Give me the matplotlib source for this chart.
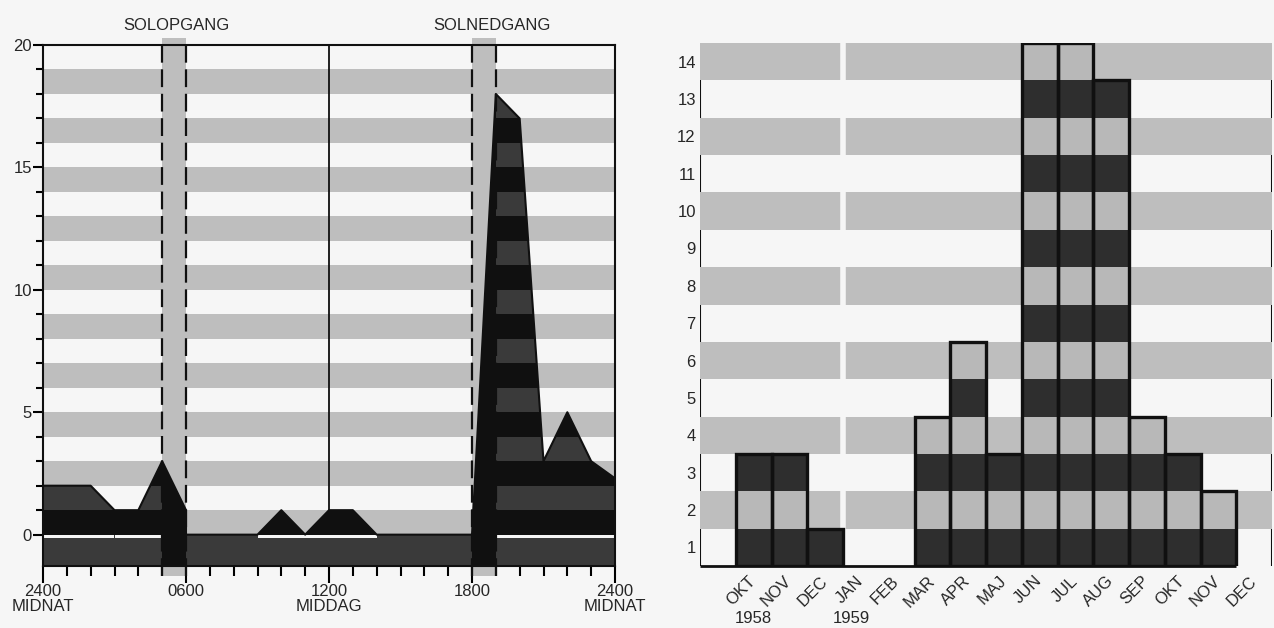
import numpy as np
import matplotlib.pyplot as plt
from matplotlib.patches import Rectangle, Polygon

plt.rcParams['font.family'] = ['Liberation Sans', 'DejaVu Sans']

# left chart: sightings per hour of the day
hours = [0, 1, 2, 3, 4, 5, 6, 6, 7, 8, 9, 10, 11, 12, 13, 14, 15, 16, 17, 18, 19, 20, 21, 22, 23, 24]
counts = [2, 2, 2, 1, 1, 3, 1, 0, 0, 0, 0, 1, 0, 1, 1, 0, 0, 0, 0, 0, 18, 17, 3, 5, 3, 2.3]
hour_ticks = [0, 6, 12, 18, 24]
hour_labels = ["2400\nMIDNAT", "0600", "1200\nMIDDAG", "1800", "2400\nMIDNAT"]
sun_bands = [(5, 6), (18, 19)]
sun_titles = ["SOLOPGANG", "SOLNEDGANG"]

# right chart: sightings per month
months = ["OKT", "NOV", "DEC", "JAN", "FEB", "MAR", "APR", "MAJ",
          "JUN", "JUL", "AUG", "SEP", "OKT", "NOV", "DEC"]
month_counts = [3, 3, 1, 0, 0, 4, 6, 3, 14, 14, 13, 4, 3, 2, 0]
years = ["1958", "1959"]
year_start = [0, 3]

BG = '#f6f6f6'
STRIPE = '#bebebe'
DARK = '#3a3a3a'
BLACK = '#101010'
TEXT = '#262626'

fig = plt.figure(figsize=(12.74, 6.28), dpi=100, facecolor=BG)

# ---------------- left: hour of day ----------------
ax = fig.add_axes([43 / 1274, 1 - 566 / 628, 572 / 1274, 521 / 628])
ax.set_facecolor(BG)
ybot = -1.28
ax.set_xlim(0, 24)
ax.set_ylim(ybot, 20)

for k in range(10):
    ax.axhspan(2 * k, 2 * k + 1, color=STRIPE, lw=0, zorder=1)

for (a, b) in sun_bands:
    ax.add_patch(Rectangle((a, -1.7), b - a, 22.0, facecolor=STRIPE, lw=0,
                           zorder=1.5, clip_on=False))

ax.axvline(12, color=BLACK, lw=1.3, zorder=1.8)

verts = [(0, ybot)] + list(zip(hours, counts)) + [(24, ybot)]
poly = Polygon(verts, closed=True, facecolor=DARK, edgecolor='none', zorder=2)
ax.add_patch(poly)

# black where the area crosses a grey stripe
for k in range(10):
    r = Rectangle((0, 2 * k), 24, 1, facecolor=BLACK, lw=0, zorder=3)
    ax.add_patch(r)
    r.set_clip_path(poly)

# thin white line at zero under the non-zero parts
for i in range(len(hours) - 1):
    if hours[i + 1] > hours[i] and (counts[i] > 0 or counts[i + 1] > 0):
        ax.add_patch(Rectangle((hours[i], -0.13), hours[i + 1] - hours[i], 0.11,
                               facecolor=BG, lw=0, zorder=4))

for (a, b) in sun_bands:
    r = Rectangle((a, ybot), b - a, 22, facecolor=BLACK, lw=0, zorder=5)
    ax.add_patch(r)
    r.set_clip_path(poly)

ax.plot(hours, counts, color=BLACK, lw=1.5, zorder=6)

for (a, b) in sun_bands:
    for xv in (a, b):
        ax.plot([xv, xv], [-1.7, 20.1], color=BLACK, lw=1.6,
                linestyle=(0, (8, 3)), zorder=7, clip_on=False)

for (a, b), title, dx in zip(sun_bands, sun_titles, [0.1, 0.35]):
    ax.text((a + b) / 2 + dx, 20.8, title, ha='center', va='center',
            fontsize=12, color=TEXT)

ax.set_yticks([0, 5, 10, 15, 20])
ax.set_yticks(np.arange(0, 21, 1), minor=True)
ax.set_xticks(hour_ticks)
ax.set_xticklabels(hour_labels, linespacing=1.0)
ax.set_xticks(np.arange(0, 25, 1), minor=True)
ax.tick_params(axis='y', which='major', length=7, width=1.5, pad=1,
               labelsize=12, labelcolor=TEXT)
ax.tick_params(axis='y', which='minor', length=5, width=1.5)
ax.tick_params(axis='x', which='major', length=12, width=1.5, pad=1,
               labelsize=12, labelcolor=TEXT)
ax.tick_params(axis='x', which='minor', length=7, width=1.5)
for s in ax.spines.values():
    s.set_linewidth(1.5)
    s.set_color(BLACK)
    s.set_zorder(8)

# ---------------- right: month ----------------
ax2 = fig.add_axes([700 / 1274, 1 - 566 / 628, 572 / 1274, 523 / 628])
ax2.set_facecolor(BG)
ax2.set_xlim(-1.5, 14.5)
ax2.set_ylim(0.5, 14.5)

for r in range(2, 15, 2):
    ax2.axhspan(r - 0.5, r + 0.5, color=STRIPE, lw=0, zorder=1)
ax2.axvline(2.5, color=BG, lw=4, zorder=1.2)

for i, c in enumerate(month_counts):
    for r in range(1, c + 1):
        ax2.add_patch(Rectangle((i - 0.5, r - 0.5), 1, 1, lw=0, zorder=2,
                                facecolor='#2e2e2e' if r % 2 else '#b8b8b8'))
    if c > 0:
        ax2.add_patch(Rectangle((i - 0.5, 0.5), 1, c, fill=False,
                                edgecolor=BLACK, lw=2.4, zorder=3))

for r in range(1, 15, 2):
    ax2.vlines([-1.5, 14.5], r - 0.5, r + 0.5, color=BLACK, lw=1.5, zorder=3)
last = max(i for i, c in enumerate(month_counts) if c > 0)
ax2.hlines(0.5, -1.5, last + 0.5, color=BLACK, lw=2, zorder=3, clip_on=False)

for s in ax2.spines.values():
    s.set_visible(False)

ax2.set_yticks(range(1, 15))
ax2.tick_params(axis='y', length=0, pad=3, labelsize=12, labelcolor=TEXT)
ax2.set_xticks(range(len(months)))
ax2.set_xticklabels(months, rotation=45, ha='right', va='center',
                    rotation_mode='anchor', fontsize=12, color=TEXT)
ax2.tick_params(axis='x', length=0, pad=9)

for yr, idx, dx in zip(years, year_start, [0, -0.27]):
    ax2.text(idx + dx, -0.1, yr, transform=ax2.get_xaxis_transform(),
             ha='center', va='center', fontsize=12, color=TEXT)

fig.savefig('out.png', dpi=100, facecolor=BG)
